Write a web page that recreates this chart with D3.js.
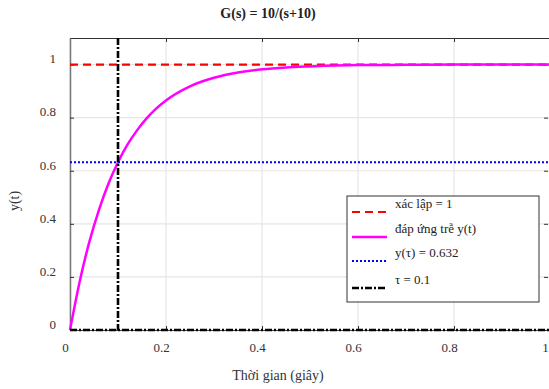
<!DOCTYPE html>
<html><head><meta charset="utf-8">
<script src="https://cdn.jsdelivr.net/npm/d3@7"></script>
<style>body{margin:0;background:#fff}svg{display:block}text{font-family:"Liberation Serif","Times New Roman",serif}</style>
</head><body><svg id="c" width="549" height="389"></svg>
<script>
const timeValues = [0,0.02,0.04,0.06,0.08,0.10,0.12,0.14,0.16,0.18,0.20,0.25,0.30,0.35,0.40,0.45,0.50,0.60,0.70,0.80,0.90,1.0];
const responseValues = [0,0.181,0.330,0.451,0.551,0.632,0.699,0.753,0.798,0.835,0.865,0.918,0.950,0.970,0.982,0.989,0.993,0.998,0.999,1.0,1.0,1.0];
const steadyValue = 1;
const tauValue = 0.1;
const yTauValue = 0.632;
const xTicks = [0,0.2,0.4,0.6,0.8,1];
const yTicks = [0,0.2,0.4,0.6,0.8,1];
const legendLabels = ["xác lập = 1","đáp ứng trễ y(t)","y(τ) = 0.632","τ = 0.1"];
const titleText = "G(s) = 10/(s+10)";
const xLabel = "Thời gian (giây)";
const yLabel = "y(t)";

const FONT = '"Liberation Serif","Times New Roman",serif';
const svg = d3.select("#c");
const L=70,R=550,T=38,B=330;
const x = d3.scaleLinear().domain([0,1]).range([L,R]);
const y = d3.scaleLinear().domain([0,1.1]).range([B,T]);

// grid
svg.append("g").selectAll("line").data(xTicks).join("line")
  .attr("x1",d=>x(d)).attr("x2",d=>x(d)).attr("y1",T).attr("y2",B)
  .attr("stroke","#e6e6e6").attr("stroke-width",1.2);
svg.append("g").selectAll("line").data(yTicks).join("line")
  .attr("y1",d=>y(d)).attr("y2",d=>y(d)).attr("x1",L).attr("x2",R)
  .attr("stroke","#e6e6e6").attr("stroke-width",1.2);

// axes (inward ticks)
const ax = svg.append("g");
ax.append("g").attr("transform",`translate(0,${B})`).call(d3.axisBottom(x).tickValues(xTicks).tickSizeInner(-4).tickSizeOuter(0).tickFormat(d3.format("")))
  .attr("font-family",FONT).attr("font-size",13)
  .call(g=>{g.select(".domain").attr("stroke","#444");g.selectAll(".tick line").attr("stroke","#333");
    g.selectAll("text").attr("y",13).attr("dx",-5).attr("fill","#333");});
ax.append("g").attr("transform",`translate(0,${T})`).call(d3.axisTop(x).tickValues(xTicks).tickSizeInner(-4).tickSizeOuter(0).tickFormat(""))
  .call(g=>{g.select(".domain").attr("stroke","#333");g.selectAll(".tick line").attr("stroke","#333");});
ax.append("g").attr("transform",`translate(${L},0)`).call(d3.axisLeft(y).tickValues(yTicks).tickSizeInner(-4).tickSizeOuter(0).tickFormat(d3.format("")))
  .attr("font-family",FONT).attr("font-size",13)
  .call(g=>{g.select(".domain").attr("stroke","#777").attr("stroke-width",1.5);g.selectAll(".tick line").attr("stroke","#333");
    g.selectAll("text").attr("x",-14).attr("dy","-0.13em").attr("fill","#333");});
ax.append("g").attr("transform",`translate(${R-2},0)`).call(d3.axisRight(y).tickValues(yTicks).tickSizeInner(-4).tickSizeOuter(0).tickFormat(""))
  .call(g=>{g.select(".domain").attr("stroke","none");g.selectAll(".tick line").attr("stroke","#333");});

// lines
svg.append("line").attr("x1",x(0)).attr("x2",x(1)).attr("y1",y(steadyValue)).attr("y2",y(steadyValue))
  .attr("stroke","#ff0000").attr("stroke-width",2.2).attr("stroke-dasharray","8,5");
const line = d3.line().x(d=>x(d[0])).y(d=>y(d[1])).curve(d3.curveMonotoneX);
svg.append("path").datum(timeValues.map((t,i)=>[t,responseValues[i]])).attr("d",line)
  .attr("fill","none").attr("stroke","#ff00ff").attr("stroke-width",2.5);
svg.append("line").attr("x1",x(0)).attr("x2",x(1)).attr("y1",y(yTauValue)).attr("y2",y(yTauValue))
  .attr("stroke","#0000ff").attr("stroke-width",2.2).attr("stroke-dasharray","2,2");
svg.append("line").attr("x1",x(tauValue)).attr("x2",x(tauValue)).attr("y1",y(1.1)).attr("y2",y(0))
  .attr("stroke","#000").attr("stroke-width",2.6).attr("stroke-dasharray","7,2,2,2");
svg.append("line").attr("x1",x(0)).attr("x2",x(1)).attr("y1",y(0)).attr("y2",y(0))
  .attr("stroke","#000").attr("stroke-width",2.6).attr("stroke-dasharray","7,2,2,2");

// legend
const lg = svg.append("g");
lg.append("rect").attr("x",347).attr("y",196).attr("width",192).attr("height",106)
  .attr("fill","#fff").attr("stroke","#333").attr("stroke-width",1);
const styles=[{c:"#ff0000",w:2.2,d:"8,5"},{c:"#ff00ff",w:2.5,d:null},{c:"#0000ff",w:2.2,d:"2,2"},{c:"#000",w:2.6,d:"7,2,2,2"}];
const rowsY=[212,237,261,288];
legendLabels.forEach((lab,i)=>{
  const l=lg.append("line").attr("x1",352).attr("x2",387).attr("y1",rowsY[i]).attr("y2",rowsY[i])
    .attr("stroke",styles[i].c).attr("stroke-width",styles[i].w);
  if(styles[i].d) l.attr("stroke-dasharray",styles[i].d);
  lg.append("text").attr("x",395).attr("y",rowsY[i]-4).attr("font-size",13).attr("fill","#222").text(lab);
});

// titles
svg.append("text").attr("x",268).attr("y",18).attr("text-anchor","middle").attr("font-size",14).attr("font-weight","bold").attr("fill","#222").text(titleText);
svg.append("text").attr("x",278).attr("y",380).attr("text-anchor","middle").attr("font-size",14).attr("fill","#333").text(xLabel);
svg.append("text").attr("transform","translate(19,201) rotate(-90)").attr("text-anchor","middle").attr("font-size",14).attr("fill","#333").text(yLabel);
</script></body></html>
